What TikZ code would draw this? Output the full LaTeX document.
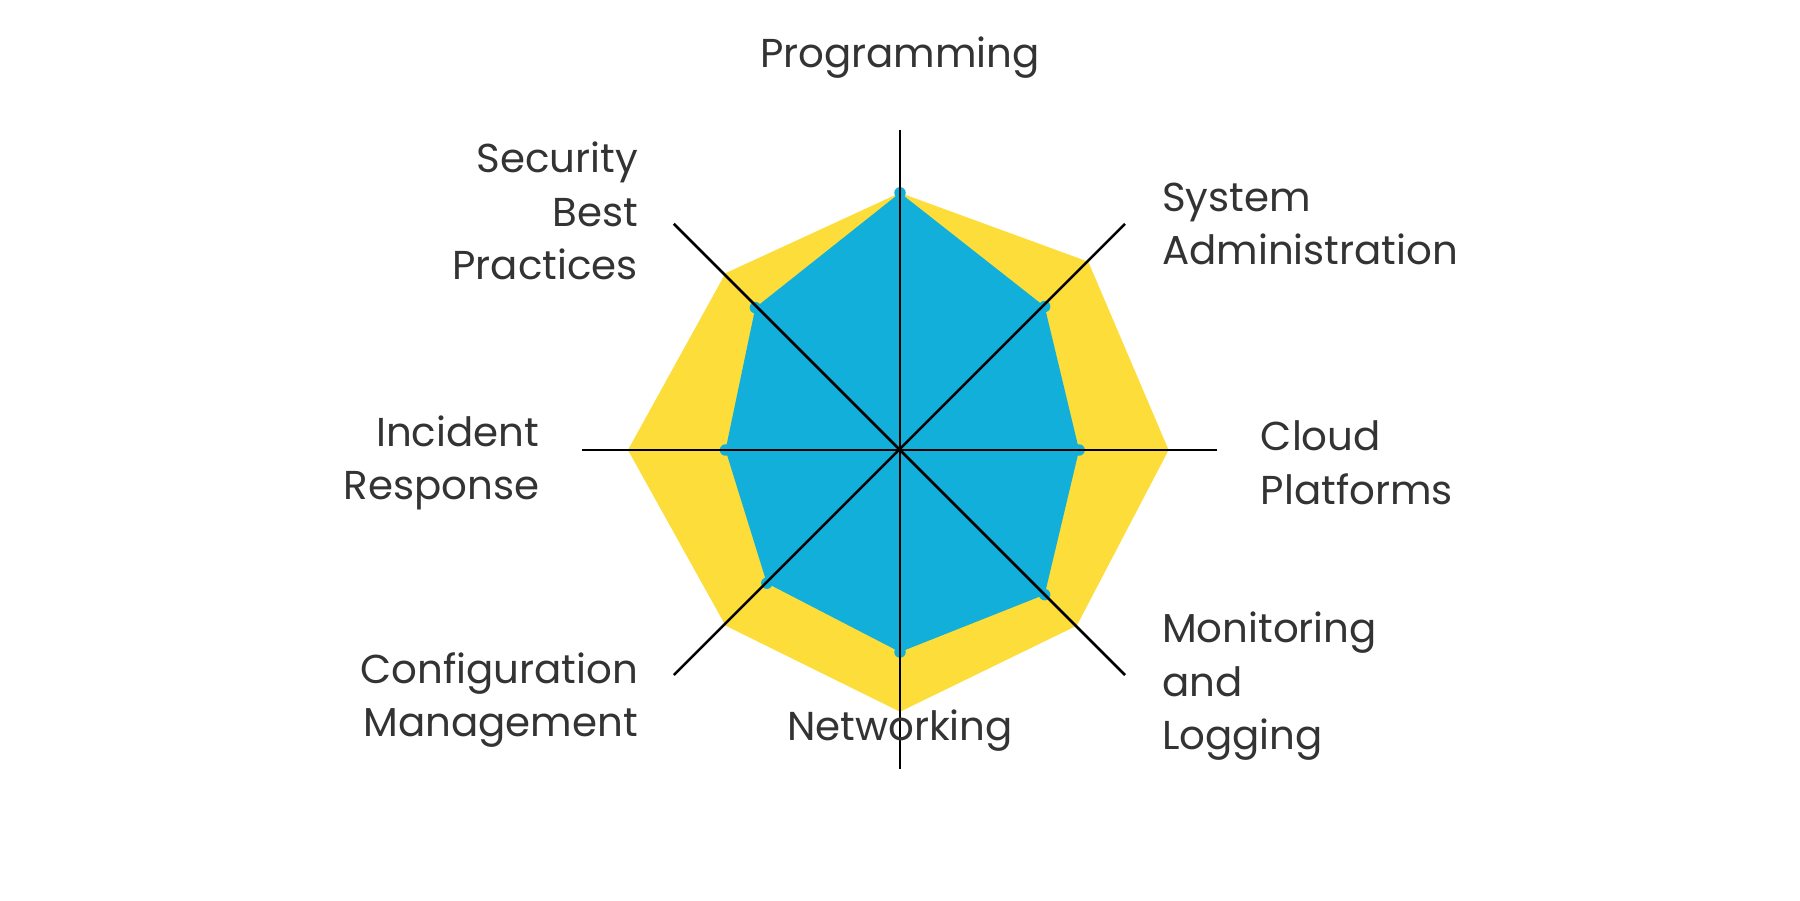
\documentclass[tikz,border=0pt]{standalone}
\usepackage{fontspec}
\setmainfont{Poppins}
\definecolor{yel}{HTML}{FDDD3A}
\definecolor{blu}{HTML}{12AFDB}
\definecolor{txt}{HTML}{333333}
\begin{document}
\begin{tikzpicture}[x=0.02cm,y=-0.02cm,
  lbl/.style={text=txt,font=\fontsize{20}{26.5}\selectfont,inner sep=0pt},
  axis/.style={line width=1.3pt,black}]
\useasboundingbox (0,0) rectangle (1568,784);
\fill[white] (0,0) rectangle (1568,784);
\coordinate (c) at (784,392);
\fill[yel] (784,168) -- (948,228) -- (1018,392) -- (938,545) -- (784,620) -- (632,545) -- (547,392) -- (632,238) -- cycle;
\fill[blu] (784,168) -- (910,267) -- (940,392) -- (910,518) -- (784,568) -- (668,508) -- (632,392) -- (658,268) -- cycle;
\foreach \p in {(784,168),(910,267),(940,392),(910,518),(784,568),(668,508),(632,392),(658,268)}
  \fill[blu] \p circle (5);
\coordinate (n) at (784,113); \coordinate (s) at (784,670);
\coordinate (w) at (507,392); \coordinate (e) at (1060,392);
\coordinate (nw) at (587,195); \coordinate (se) at (980,588);
\coordinate (ne) at (980,195); \coordinate (sw) at (587,588);
\draw[axis] (n) -- (s); \draw[axis] (w) -- (e);
\draw[axis] (nw) -- (se); \draw[axis] (ne) -- (sw);
\node[lbl] (l1) at (784,50) {Programming};
\node[lbl,anchor=east,align=right] (l2) at (556,184) {Security\\Best\\Practices};
\node[lbl,anchor=west,align=left] (l3) at (1012,195) {System\\Administration};
\node[lbl,anchor=west,align=left] (l4) at (1098,403) {Cloud\\Platforms};
\node[lbl,anchor=west,align=left] (l5) at (1012,598) {Monitoring\\and\\Logging};
\node[lbl] (l6) at (784,636) {Networking};
\node[lbl,anchor=east,align=right] (l7) at (556,610) {Configuration\\Management};
\node[lbl,anchor=east,align=right] (l8) at (470,403) {Incident\\Response};
\end{tikzpicture}
\end{document}
